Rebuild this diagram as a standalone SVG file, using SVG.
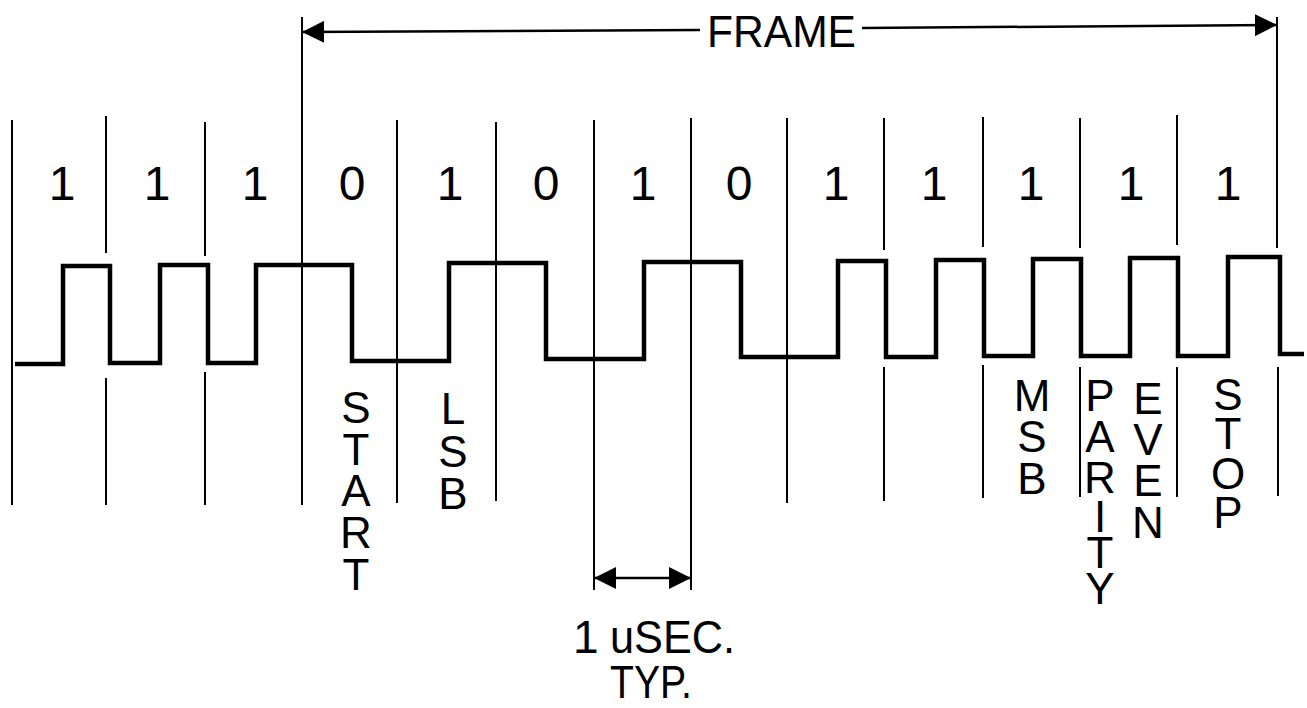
<svg xmlns="http://www.w3.org/2000/svg" width="1307" height="708" viewBox="0 0 1307 708">
<defs>
<style>
.bl{stroke:#000;stroke-width:2;fill:none}
.wave{stroke:#000;stroke-width:4.5;fill:none;stroke-linejoin:miter}
.dim{stroke:#000;stroke-width:2.5;fill:none}
.t{font-family:"Liberation Sans",Arial,sans-serif;fill:#000}
.bit{font-size:48px;text-anchor:middle}
.v{font-size:44px;text-anchor:middle}
</style>
<marker id="ah" markerUnits="userSpaceOnUse" markerWidth="22" markerHeight="22" viewBox="0 0 22 22" refX="22" refY="11" orient="auto-start-reverse">
<path d="M0,0 L22,11 L0,22 Z" fill="#000"/>
</marker>
</defs>
<rect width="1307" height="708" fill="#fff"/>

<g id="bit-lines">
<path class="bl" d="M12 120 V505"/>
<path class="bl" d="M106 116 V253 M106 378 V505"/>
<path class="bl" d="M205 122 V256 M205 372 V505"/>
<path class="bl" d="M397 120 V503"/>
<path class="bl" d="M496 122 V501"/>
<path class="bl" d="M787 118 V503"/>
<path class="bl" d="M884 118 V250 M884 367 V501"/>
<path class="bl" d="M983 117 V247 M983 365 V498"/>
<path class="bl" d="M1080 118 V248 M1080 367 V497"/>
<path class="bl" d="M1177 115 V245 M1177 367 V497"/>
<path class="bl" d="M1278 367 V496"/>
</g>

<g id="waveform">
<path class="wave" d="M15 364 H63 V266 H110 V363 H160 V265 H208 V363 H256 V265 H352 V361 H449 V263 H546 V359 H644 V262 H741 V357 H838 V261 H886 V357 H936 V260 H984 V356 H1033 V259 H1081 V356 H1130 V258 H1178 V356 H1228 V257 H1280 V354 H1304"/>
</g>

<g id="bit-values" class="t bit">
<text x="62" y="200">1</text>
<text x="157" y="200">1</text>
<text x="255" y="200">1</text>
<text x="352" y="200">0</text>
<text x="450" y="200">1</text>
<text x="546" y="200">0</text>
<text x="643" y="200">1</text>
<text x="739" y="200">0</text>
<text x="836" y="200">1</text>
<text x="934" y="200">1</text>
<text x="1031" y="200">1</text>
<text x="1131" y="200">1</text>
<text x="1228" y="200">1</text>
</g>

<g id="frame">
<path class="bl" d="M302 17 V505"/>
<path class="bl" d="M1277 17 V248"/>
<text class="t" x="707" y="47" font-size="45" textLength="149" lengthAdjust="spacingAndGlyphs">FRAME</text>
</g>

<g id="usec">
<path class="bl" d="M594 120 V590"/>
<path class="bl" d="M691 118 V590"/>
<text class="t" font-size="46"><tspan x="573" y="653">1</tspan><tspan x="610" y="653" textLength="125" lengthAdjust="spacingAndGlyphs">uSEC.</tspan></text>
<text class="t" x="610" y="698" font-size="46" textLength="82" lengthAdjust="spacingAndGlyphs">TYP.</text>
</g>

<g id="label-start" class="t v"><text><tspan x="356" y="423">S</tspan><tspan x="356" y="465">T</tspan><tspan x="356" y="506">A</tspan><tspan x="356" y="548">R</tspan><tspan x="356" y="590">T</tspan></text></g>
<g id="label-lsb" class="t v"><text><tspan x="453" y="424">L</tspan><tspan x="453" y="467">S</tspan><tspan x="453" y="509">B</tspan></text></g>
<g id="label-msb" class="t v"><text><tspan x="1032" y="411">M</tspan><tspan x="1032" y="452">S</tspan><tspan x="1032" y="494">B</tspan></text></g>
<g id="label-parity" class="t v"><text><tspan x="1100" y="411">P</tspan><tspan x="1100" y="452">A</tspan><tspan x="1100" y="493">R</tspan><tspan x="1100" y="532">I</tspan><tspan x="1100" y="568">T</tspan><tspan x="1100" y="604">Y</tspan></text></g>
<g id="label-even" class="t v"><text><tspan x="1148" y="414">E</tspan><tspan x="1148" y="455">V</tspan><tspan x="1148" y="496">E</tspan><tspan x="1148" y="538">N</tspan></text></g>
<g id="label-stop" class="t v"><text><tspan x="1228" y="410">S</tspan><tspan x="1228" y="449">T</tspan><tspan x="1228" y="489">O</tspan><tspan x="1228" y="528">P</tspan></text></g>

<g id="connectors">
<path class="dim" d="M302 32 L700 30" marker-start="url(#ah)"/>
<path class="dim" d="M862 28 L1277 25" marker-end="url(#ah)"/>
<path class="dim" d="M594 578 L691 578" marker-start="url(#ah)" marker-end="url(#ah)"/>
</g>
</svg>
